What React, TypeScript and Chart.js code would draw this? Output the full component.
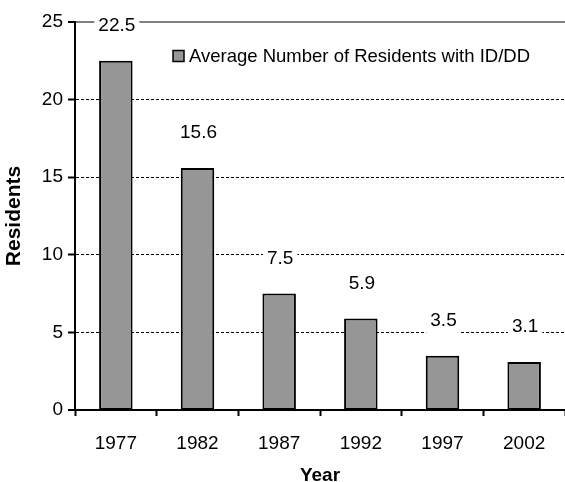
import { useEffect, useRef } from "react";
import { Chart, registerables } from "chart.js";

Chart.register(...registerables);

const years = ["1977", "1982", "1987", "1992", "1997", "2002"];
const residents = [22.5, 15.6, 7.5, 5.9, 3.5, 3.1];
const seriesLabel = "Average Number of Residents with ID/DD";
const yMin = 0;
const yMax = 25;
const yStep = 5;
const xTitle = "Year";
const yTitle = "Residents";

const FONT = "'Liberation Sans', Arial, Helvetica, sans-serif";
const BAR_FILL = "#969696";

export default function App() {
  const ref = useRef<HTMLCanvasElement | null>(null);

  useEffect(() => {
    if (!ref.current) return;

    const overlay = {
      id: "overlay",
      afterDatasetsDraw(chart: any) {
        const ctx = chart.ctx;
        const meta = chart.getDatasetMeta(0);
        ctx.save();
        ctx.font = `19px ${FONT}`;
        ctx.textAlign = "center";
        ctx.textBaseline = "middle";
        meta.data.forEach((bar: any, i: number) => {
          const text = residents[i].toFixed(1);
          const x = bar.x + 1;
          const y = bar.y - 35;
          const w = ctx.measureText(text).width;
          ctx.fillStyle = "#ffffff";
          ctx.fillRect(x - w / 2 - 4, y - 15, w + 8, 30);
          ctx.fillStyle = "#000000";
          ctx.fillText(text, x, y);
        });

        // legend
        const ca = chart.chartArea;
        const lx = ca.left + 98;
        const ly = ca.top + 34;
        ctx.fillStyle = BAR_FILL;
        ctx.fillRect(lx, ly - 5.5, 11, 11);
        ctx.strokeStyle = "#000";
        ctx.lineWidth = 1.5;
        ctx.strokeRect(lx, ly - 5.5, 11, 11);
        ctx.fillStyle = "#000";
        ctx.font = `18.5px ${FONT}`;
        ctx.textAlign = "left";
        ctx.textBaseline = "middle";
        ctx.fillText(seriesLabel, lx + 16, ly + 1);
        ctx.restore();
      },
    };

    const chart = new Chart(ref.current, {
      type: "bar",
      data: {
        labels: years,
        datasets: [
          {
            label: seriesLabel,
            data: residents,
            backgroundColor: BAR_FILL,
            borderColor: "#000000",
            borderWidth: 2,
            borderSkipped: false,
            categoryPercentage: 1,
            barPercentage: 0.41,
          },
        ],
      },
      options: {
        responsive: false,
        animation: false,
        events: [],
        layout: { padding: { top: 22, right: 0, left: 0, bottom: 0 } },
        plugins: {
          legend: { display: false },
          tooltip: { enabled: false },
          title: { display: false },
        },
        scales: {
          x: {
            offset: true,
            grid: {
              offset: true,
              drawOnChartArea: false,
              drawTicks: true,
              tickLength: 6,
              tickWidth: 2,
              tickColor: "#000",
            },
            border: { display: true, color: "#000", width: 2 },
            ticks: {
              color: "#000",
              padding: 16,
              font: { family: FONT, size: 19 },
              maxRotation: 0,
            },
            title: {
              display: true,
              text: xTitle,
              color: "#000",
              font: { family: FONT, size: 19, weight: "bold", lineHeight: 1.2 },
              padding: { top: 0, bottom: -5 },
            },
            afterFit(scale: any) {
              scale.height = 72;
            },
          },
          y: {
            min: yMin,
            max: yMax,
            ticks: {
              stepSize: yStep,
              color: "#000",
              padding: 5,
              font: { family: FONT, size: 19 },
            },
            grid: {
              color: (c: any) => (c.tick && c.tick.value === yMax ? "#808080" : "#000"),
              lineWidth: (c: any) =>
                c.tick && c.tick.value === yMin ? 0 : c.tick && c.tick.value === yMax ? 2 : 1,
              drawTicks: true,
              tickLength: 7,
              tickWidth: 2,
              tickColor: "#000",
            },
            border: {
              display: true,
              color: "#000",
              width: 2,
              dash: (c: any) => (c.tick && c.tick.value === yMax ? [] : [3, 2]),
            },
            title: {
              display: true,
              text: yTitle,
              color: "#000",
              font: { family: FONT, size: 21, weight: "bold", lineHeight: 1.2 },
              padding: { top: 2, bottom: 0 },
            },
            afterFit(scale: any) {
              scale.width = 75;
            },
          },
        },
      },
      plugins: [overlay],
    });

    return () => chart.destroy();
  }, []);

  return (
    <div style={{ position: "absolute", left: 0, top: 0, width: 565, height: 482 }}>
      <canvas ref={ref} width={565} height={482} />
    </div>
  );
}
